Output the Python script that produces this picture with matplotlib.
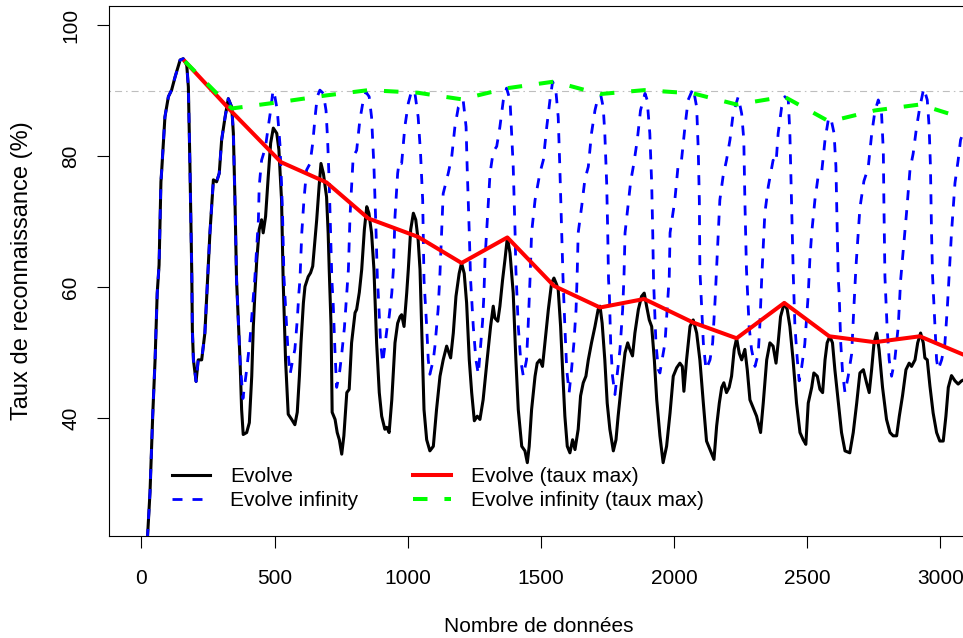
import matplotlib
matplotlib.use("Agg")
import matplotlib.pyplot as plt
from matplotlib.lines import Line2D

plt.rcParams['font.family'] = ['Liberation Sans', 'DejaVu Sans']

# common start of both series (identical up to ~370)
start_x = [18, 23, 32, 42, 51, 59, 66, 73, 76, 88, 101, 113, 126, 145, 157, 170, 176, 182,
           189, 191, 195, 205, 213, 226, 238, 247, 257, 270, 282, 292, 301, 314, 326, 339,
           345, 351, 357, 370]
start_y = [18.5, 22.1, 28.7, 40.3, 48.9, 59.1, 63.4, 76.1, 77.9, 86.0, 89.1, 90.1, 92.1, 94.7,
           94.9, 93.9, 90.6, 78.4, 61.6, 53.5, 48.9, 45.6, 48.9, 48.9, 53.0, 60.1, 68.3, 76.4,
           76.1, 77.4, 82.5, 86.0, 88.8, 87.5, 83.5, 73.3, 61.1, 48.9]

# Evolve
evolve_x = start_x + [
    376, 382, 395, 405, 414, 420, 426, 433, 442, 451, 457, 466, 476, 485, 495, 508, 516, 526,
    532, 541, 551, 564, 576, 585, 593, 599, 608, 614, 626, 635, 643, 658, 667, 674, 683, 695,
    701, 705, 712, 716, 727, 735, 743, 752, 760, 771, 780, 789, 802, 808, 818, 827, 837, 846,
    854, 864, 873, 883, 893, 902, 908, 914, 921, 930, 940, 952, 962, 971, 977, 986, 996, 1002,
    1011, 1021, 1030, 1039, 1046, 1052, 1061, 1071, 1083, 1096, 1108, 1121, 1133, 1146, 1161,
    1171, 1181, 1193, 1202, 1212, 1221, 1231, 1240, 1250, 1261, 1271, 1283, 1298, 1311, 1321,
    1327, 1338, 1346, 1356, 1365, 1374, 1384, 1396, 1406, 1415, 1428, 1440, 1449, 1456, 1465,
    1478, 1486, 1496, 1506, 1515, 1528, 1540, 1549, 1559, 1565, 1574, 1582, 1590, 1599, 1609,
    1619, 1628, 1640, 1649, 1659, 1669, 1678, 1690, 1703, 1715, 1722, 1730, 1740, 1749, 1759,
    1772, 1782, 1790, 1803, 1816, 1826, 1834, 1844, 1853, 1866, 1878, 1888, 1897, 1907, 1916,
    1926, 1935, 1947, 1959, 1972, 1985, 1997, 2010, 2022, 2031, 2037, 2047, 2060, 2072, 2085,
    2097, 2110, 2122, 2135, 2150, 2160, 2170, 2179, 2187, 2197, 2207, 2216, 2226, 2235, 2245,
    2254, 2266, 2275, 2285, 2297, 2310, 2325, 2335, 2348, 2360, 2372, 2383, 2391, 2400, 2414,
    2425, 2435, 2447, 2460, 2473, 2485, 2495, 2504, 2517, 2525, 2538, 2548, 2558, 2567, 2575,
    2585, 2595, 2604, 2616, 2629, 2642, 2660, 2673, 2686, 2698, 2711, 2723, 2733, 2742, 2751,
    2761, 2770, 2783, 2798, 2811, 2823, 2836, 2846, 2858, 2871, 2883, 2892, 2905, 2915, 2926,
    2936, 2942, 2951, 2961, 2973, 2986, 2998, 3011, 3021, 3030, 3042, 3055, 3067, 3080, 3096]
evolve_y = start_y + [
    41.3, 37.5, 37.8, 39.3, 46.4, 54.0, 59.2, 64.2, 68.8, 70.3, 68.3, 70.8, 76.9, 82.0, 84.3,
    83.5, 81.0, 73.3, 61.1, 48.9, 40.6, 39.8, 39.0, 40.9, 46.4, 51.5, 57.6, 60.1, 61.6, 62.2,
    63.2, 70.3, 75.4, 78.9, 77.4, 73.8, 68.3, 62.7, 54.0, 40.9, 39.8, 37.8, 36.7, 34.5, 37.3,
    43.9, 44.4, 51.5, 56.1, 56.6, 59.2, 62.7, 68.8, 72.3, 71.3, 68.3, 62.7, 51.5, 43.9, 40.3,
    39.3, 38.3, 38.6, 37.8, 42.8, 51.5, 54.5, 55.5, 55.8, 54.0, 59.1, 62.7, 68.8, 71.3, 70.3,
    67.2, 62.7, 54.0, 41.3, 36.7, 35.0, 35.7, 41.3, 46.4, 48.9, 51.0, 49.2, 53.0, 58.6, 62.1,
    63.7, 62.1, 57.6, 48.9, 43.9, 39.6, 40.3, 39.8, 42.8, 48.9, 54.0, 57.1, 55.3, 54.8, 57.1,
    61.1, 64.2, 67.6, 65.2, 59.1, 48.9, 41.3, 35.7, 35.0, 33.2, 35.7, 41.3, 46.4, 48.4, 48.9,
    47.9, 51.5, 56.6, 60.6, 61.4, 60.4, 59.6, 54.0, 46.9, 40.3, 35.7, 34.7, 36.7, 35.2, 38.3,
    43.4, 45.4, 46.4, 48.9, 51.5, 54.0, 56.6, 57.1, 54.5, 48.9, 42.3, 38.3, 35.0, 36.7, 40.3,
    45.4, 50.0, 51.5, 50.5, 49.5, 53.0, 56.6, 58.6, 59.1, 57.1, 55.0, 54.0, 48.9, 42.8, 37.3,
    33.2, 35.7, 40.8, 46.4, 47.7, 48.4, 47.9, 44.1, 48.9, 54.0, 55.0, 53.0, 48.9, 42.3, 36.5,
    35.2, 33.7, 38.8, 42.3, 44.7, 45.4, 43.9, 44.7, 46.4, 50.5, 52.2, 49.9, 48.9, 50.5, 47.4,
    42.8, 41.6, 40.3, 37.8, 42.3, 48.9, 51.5, 51.0, 48.4, 51.5, 55.5, 57.6, 56.6, 54.0, 48.9,
    42.3, 37.8, 36.7, 36.0, 42.3, 44.7, 46.9, 46.4, 44.4, 43.9, 48.9, 51.5, 52.5, 51.5, 47.4,
    42.8, 37.8, 35.0, 34.7, 37.8, 42.3, 46.9, 47.4, 45.4, 43.9, 47.4, 51.5, 53.0, 50.5, 44.7,
    39.8, 37.8, 37.3, 37.3, 40.3, 43.4, 47.4, 48.4, 47.9, 48.9, 51.5, 53.0, 51.5, 49.2, 48.9,
    44.9, 40.8, 37.8, 36.5, 36.5, 40.3, 44.7, 46.5, 45.7, 45.2, 45.7, 46.0]

# Evolve infinity
infinity_x = start_x + [
    381, 395, 407, 418, 426, 439, 442, 451, 457, 466, 476, 485, 494, 501, 510, 520, 526, 530,
    535, 545, 551, 558, 568, 576, 585, 591, 595, 602, 610, 620, 633, 643, 652, 660, 670, 683,
    693, 699, 705, 710, 715, 720, 727, 733, 743, 752, 762, 771, 777, 783, 795, 808, 820, 833,
    843, 855, 864, 873, 881, 886, 889, 898, 906, 914, 923, 930, 940, 946, 952, 962, 968, 977,
    989, 1002, 1015, 1027, 1039, 1048, 1056, 1061, 1071, 1077, 1083, 1096, 1102, 1114, 1121,
    1133, 1152, 1165, 1177, 1190, 1208, 1219, 1223, 1231, 1236, 1246, 1256, 1265, 1274, 1281,
    1286, 1290, 1296, 1309, 1321, 1334, 1346, 1359, 1371, 1384, 1390, 1396, 1403, 1406, 1415,
    1424, 1434, 1446, 1452, 1459, 1465, 1478, 1496, 1509, 1522, 1534, 1544, 1556, 1565, 1571,
    1578, 1583, 1590, 1597, 1606, 1615, 1624, 1632, 1636, 1640, 1653, 1665, 1678, 1690, 1703,
    1715, 1725, 1734, 1740, 1747, 1751, 1754, 1757, 1762, 1769, 1778, 1787, 1797, 1807, 1812,
    1816, 1828, 1837, 1849, 1862, 1874, 1891, 1899, 1909, 1916, 1920, 1923, 1932, 1941, 1947,
    1953, 1966, 1974, 1982, 1985, 2003, 2016, 2028, 2041, 2053, 2072, 2085, 2091, 2095, 2097,
    2104, 2110, 2120, 2135, 2145, 2154, 2160, 2172, 2184, 2197, 2210, 2222, 2241, 2254, 2262,
    2266, 2272, 2282, 2291, 2304, 2316, 2322, 2329, 2341, 2354, 2372, 2383, 2391, 2404, 2416,
    2429, 2435, 2441, 2448, 2454, 2463, 2470, 2479, 2491, 2504, 2510, 2517, 2529, 2541, 2554,
    2567, 2579, 2588, 2601, 2608, 2613, 2617, 2620, 2626, 2633, 2642, 2654, 2667, 2675, 2683,
    2698, 2713, 2729, 2742, 2754, 2767, 2779, 2786, 2788, 2792, 2800, 2808, 2817, 2829, 2842,
    2851, 2861, 2873, 2886, 2898, 2911, 2923, 2938, 2951, 2958, 2963, 2967, 2971, 2980, 2986,
    2992, 3005, 3017, 3026, 3033, 3042, 3055, 3067, 3076, 3085, 3096]
infinity_y = start_y + [
    43.0, 47.4, 51.8, 57.4, 61.6, 70.3, 75.4, 79.4, 80.2, 81.5, 84.5, 87.0, 90.1, 89.1, 87.0,
    81.8, 75.7, 70.6, 61.6, 54.0, 49.8, 46.7, 48.9, 50.5, 55.0, 59.1, 61.1, 68.3, 73.3, 77.9,
    78.9, 82.0, 86.0, 89.1, 90.1, 89.6, 87.0, 82.5, 75.9, 68.3, 61.1, 57.4, 49.8, 44.7, 46.7,
    49.8, 53.8, 59.1, 62.7, 70.8, 79.9, 80.9, 85.5, 88.6, 89.8, 89.1, 86.0, 78.4, 68.3, 61.1,
    59.1, 51.5, 48.4, 51.0, 54.0, 55.5, 59.1, 62.7, 70.8, 77.4, 79.2, 78.9, 84.5, 88.1, 90.1,
    89.6, 86.0, 80.4, 73.3, 61.1, 54.0, 48.9, 46.7, 48.9, 51.0, 56.6, 62.2, 74.3, 77.4, 79.9,
    84.5, 87.5, 88.6, 84.5, 78.4, 68.3, 61.1, 54.0, 48.9, 46.7, 51.3, 54.8, 58.9, 64.2, 68.3,
    77.4, 80.7, 81.5, 84.5, 88.6, 90.4, 88.6, 83.5, 78.4, 68.3, 62.7, 54.0, 48.9, 46.4, 48.9,
    54.0, 61.1, 68.3, 73.3, 77.4, 79.4, 84.5, 88.6, 91.4, 90.1, 86.0, 78.4, 68.3, 61.4, 54.0,
    47.4, 43.9, 47.4, 51.5, 56.6, 61.6, 68.3, 72.3, 76.4, 78.4, 83.5, 87.0, 89.1, 89.3, 87.5,
    83.5, 75.9, 68.3, 61.1, 59.1, 51.5, 46.4, 43.6, 46.9, 50.5, 56.6, 61.6, 68.3, 72.8, 76.1,
    78.9, 82.5, 87.0, 89.6, 88.6, 83.5, 75.9, 68.3, 61.1, 51.5, 47.4, 46.9, 48.4, 51.5, 56.6,
    61.6, 68.3, 73.3, 78.9, 79.4, 84.5, 88.6, 90.4, 87.5, 80.9, 73.3, 62.7, 56.6, 51.5, 47.4,
    48.9, 51.5, 57.9, 63.0, 73.3, 76.9, 79.4, 82.5, 86.5, 89.1, 86.5, 82.5, 73.3, 62.7, 54.0,
    50.5, 47.9, 49.8, 54.0, 61.1, 71.3, 75.4, 79.4, 78.9, 83.5, 87.5, 89.1, 88.6, 83.5, 73.3,
    61.6, 54.0, 48.9, 45.7, 47.7, 51.3, 58.9, 64.2, 68.3, 73.3, 76.9, 77.4, 82.5, 85.5, 86.0,
    83.5, 78.4, 68.3, 61.1, 59.1, 51.5, 46.9, 43.9, 46.4, 49.8, 56.6, 63.0, 72.1, 76.2, 78.2,
    83.3, 86.8, 88.6, 86.8, 80.7, 73.3, 61.6, 54.0, 48.9, 46.4, 48.9, 54.0, 61.1, 65.7, 71.3,
    77.9, 80.4, 84.5, 87.5, 90.4, 88.6, 84.5, 78.4, 68.3, 61.6, 54.0, 48.9, 47.4, 48.9, 51.3,
    56.6, 61.6, 68.3, 75.9, 79.4, 82.5, 83.5, 84.3]

# taux max (same window positions for both)
max_x = [163, 339, 524, 695, 852, 1038, 1202, 1374, 1549, 1722, 1888, 2072, 2235, 2414,
         2583, 2754, 2923, 3104]
evolve_max = [94.5, 86.8, 79.1, 76.0, 70.5, 67.7, 63.7, 67.6, 60.2, 56.9, 58.2, 54.6, 52.2,
              57.6, 52.5, 51.6, 52.5, 49.4]
infinity_max = [94.5, 87.3, 88.3, 89.3, 90.1, 89.7, 88.7, 90.4, 91.4, 89.5, 90.1, 89.6, 87.9,
                89.1, 85.3, 87.0, 87.9, 85.6]

ref_level = 90
xticks = [0, 500, 1000, 1500, 2000, 2500, 3000]
yticks = [40, 60, 80, 100]

fig = plt.figure(figsize=(9.63, 6.38), dpi=100)
ax = fig.add_axes([0.1132, 0.1599, 0.8920, 0.8312])

ax.axhline(ref_level, color='#BEBEBE', lw=0.8, ls=(0, (1.4, 3.6, 6.3, 3.6)), zorder=1)
ax.plot(evolve_x, evolve_y, color='black', lw=2.2, zorder=2)
ax.plot(infinity_x, infinity_y, color='#0000FF', lw=2.0, ls=(0, (3.6, 3.6)), zorder=3)
ax.plot(max_x, evolve_max, color='#FF0000', lw=2.9, zorder=4)
ax.plot(max_x, infinity_max, color='#00FF00', lw=2.9, ls=(0, (3.6, 4.2)), zorder=5)

ax.set_xlim(-122, 3104)
ax.set_ylim(22, 103)
ax.set_xticks(xticks)
ax.set_yticks(yticks)
ax.set_yticklabels([str(v) for v in yticks], rotation=90, va='center')
ax.tick_params(direction='out', length=8.6, width=0.8, labelsize=15, color='black')
ax.tick_params(axis='x', pad=15)
ax.tick_params(axis='y', pad=12)
for s in ax.spines.values():
    s.set_linewidth(0.8)
    s.set_color('black')

ax.set_xlabel('Nombre de données', fontsize=15)
ax.xaxis.set_label_coords(0.5, -0.1527)
ax.set_ylabel('Taux de reconnaissance (%)', fontsize=17)
ax.yaxis.set_label_coords(-0.0880, 0.5)

handles = [
    Line2D([], [], color='black', lw=2.2),
    Line2D([], [], color='#0000FF', lw=2.0, ls=(0, (3.6, 3.6))),
    Line2D([], [], color='#FF0000', lw=2.9),
    Line2D([], [], color='#00FF00', lw=2.9, ls=(0, (3.6, 4.2))),
]
labels = ['Evolve', 'Evolve infinity', 'Evolve (taux max)', 'Evolve infinity (taux max)']
ax.legend(handles, labels, ncol=2, loc='upper left', bbox_to_anchor=(0.0733, 0.130),
          frameon=False, fontsize=15, borderpad=0, borderaxespad=0, handlelength=1.83,
          handletextpad=0.96, columnspacing=2.64, labelspacing=0.25)

fig.savefig('out.png', dpi=100)
